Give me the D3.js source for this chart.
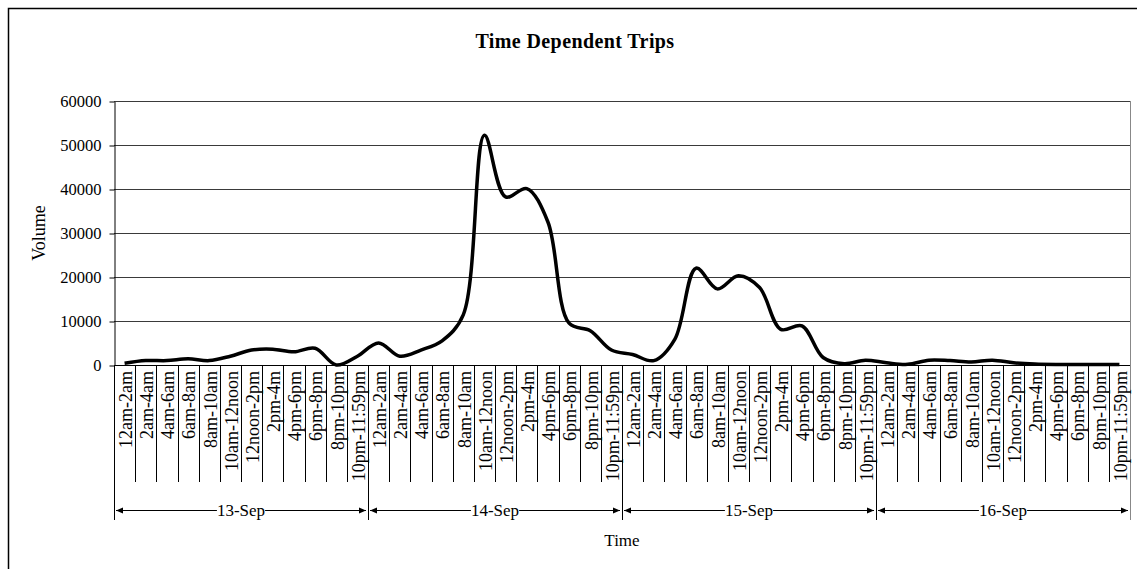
<!DOCTYPE html>
<html><head><meta charset="utf-8">
<script src="https://cdn.jsdelivr.net/npm/d3@7"></script>
<style>body{margin:0;background:#fff}svg{display:block}text{font-family:"Liberation Serif","Times New Roman",serif;fill:#000}</style>
</head><body>
<svg id="c" width="1137" height="569"></svg>
<script>
const days = ["13-Sep","14-Sep","15-Sep","16-Sep"];
const slots = ["12am-2am","2am-4am","4am-6am","6am-8am","8am-10am","10am-12noon","12noon-2pm","2pm-4m","4pm-6pm","6pm-8pm","8pm-10pm","10pm-11:59pm"];
const vol13 = [400,1000,1000,1400,1000,2000,3400,3600,3000,3800,0,2000];
const vol14 = [5000,2000,3400,5500,11400,52200,38200,40100,32500,9500,7800,3400];
const vol15 = [2400,1000,5900,22000,17300,20300,17600,8100,8900,1700,300,1100];
const vol16 = [500,150,1100,1000,700,1100,500,200,100,100,100,100];
const yTicks = [0,10000,20000,30000,40000,50000,60000];

const values = [].concat(vol13, vol14, vol15, vol16);
const cats = [];
days.forEach(d => slots.forEach(s => cats.push(d + "|" + s)));

const svg = d3.select("#c");
const L = 114, R = 1130, T = 101, B = 365;
const x = d3.scaleBand().domain(cats).range([L, R]);
const y = d3.scaleLinear().domain([0, 60000]).range([B, T]);

// outer frame
svg.append("rect").attr("x", 8.5).attr("y", 8.5).attr("width", 1200).attr("height", 700)
  .attr("fill", "none").attr("stroke", "#000").attr("stroke-width", 1.5);

// title
svg.append("text").attr("x", 575).attr("y", 48).attr("text-anchor", "middle")
  .attr("font-size", 20).attr("font-weight", "bold").attr("letter-spacing", 0.4).text("Time Dependent Trips");

// gridlines
svg.append("g").selectAll("line").data(yTicks.filter(d => d > 0)).join("line")
  .attr("x1", L).attr("x2", R).attr("y1", d => Math.round(y(d)) + 0.5).attr("y2", d => Math.round(y(d)) + 0.5)
  .attr("stroke", "#3a3a3a").attr("stroke-width", 1);
// right border of plot
svg.append("line").attr("x1", R + 0.5).attr("x2", R + 0.5).attr("y1", T).attr("y2", B)
  .attr("stroke", "#888").attr("stroke-width", 1);

// y axis
const yAxis = d3.axisLeft(y).tickValues(yTicks).tickSize(5).tickSizeOuter(0).tickPadding(8).tickFormat(d3.format("d"));
const gy = svg.append("g").attr("transform", `translate(${L + 0.5},0.5)`).call(yAxis);
gy.selectAll("text").attr("font-size", 16.5).attr("font-family", "Liberation Serif");
gy.selectAll("line,path").attr("stroke", "#000");

svg.append("text").attr("transform", `translate(45,${(T + B) / 2}) rotate(-90)`)
  .attr("text-anchor", "middle").attr("font-size", 18).text("Volume");

// x axis line
svg.append("line").attr("x1", L).attr("x2", R).attr("y1", B + 0.5).attr("y2", B + 0.5).attr("stroke", "#000");

// category separators
const bw = x.bandwidth();
const bounds = d3.range(cats.length + 1);
svg.append("g").selectAll("line").data(bounds).join("line")
  .attr("x1", k => Math.round(L + k * bw) + 0.5).attr("x2", k => Math.round(L + k * bw) + 0.5)
  .attr("y1", B).attr("y2", k => (k % 12 === 0) ? 520 : 482)
  .attr("stroke", k => (k === cats.length) ? "#888" : "#000").attr("stroke-width", 1);

// rotated category labels
svg.append("g").selectAll("text").data(cats).join("text")
  .attr("transform", c => `translate(${x(c) + bw / 2 + 1},371) rotate(-90)`)
  .attr("text-anchor", "end").attr("dy", "0.35em").attr("font-size", 18)
  .text(c => c.split("|")[1]);

// day labels with arrows
const dayG = svg.append("g");
days.forEach((d, i) => {
  const x0 = L + i * 12 * bw, x1 = L + (i + 1) * 12 * bw, cx = (x0 + x1) / 2, yy = 510.5;
  const t = dayG.append("text").attr("x", cx).attr("y", 516).attr("text-anchor", "middle").attr("font-size", 17).text(d);
  const w = t.node().getComputedTextLength();
  dayG.append("line").attr("x1", x0 + 2).attr("x2", cx - w / 2).attr("y1", yy).attr("y2", yy).attr("stroke", "#000");
  dayG.append("line").attr("x1", cx + w / 2).attr("x2", x1 - 2).attr("y1", yy).attr("y2", yy).attr("stroke", "#000");
  dayG.append("path").attr("d", `M${x0 + 2},${yy} l7,-3 l0,6 z`).attr("fill", "#000");
  dayG.append("path").attr("d", `M${x1 - 2},${yy} l-7,-3 l0,6 z`).attr("fill", "#000");
});

svg.append("text").attr("x", (L + R) / 2).attr("y", 546).attr("text-anchor", "middle").attr("font-size", 17).text("Time");

// data line
const line = d3.line().x((v, i) => x(cats[i]) + bw / 2).y(v => y(v)).curve(d3.curveCatmullRom.alpha(0.5));
svg.append("path").datum(values).attr("d", line).attr("fill", "none")
  .attr("stroke", "#000").attr("stroke-width", 3.5).attr("stroke-linejoin", "round");
</script>
</body></html>
